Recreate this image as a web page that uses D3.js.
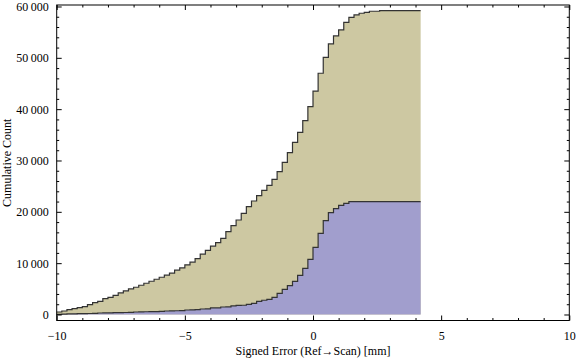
<!DOCTYPE html>
<html>
<head>
<meta charset="utf-8">
<script src="https://cdn.jsdelivr.net/npm/d3@7"></script>
<style>
  body { margin: 0; background: #fff; }
  text { font-family: "Liberation Serif", "Times New Roman", serif; fill: #000; }
</style>
</head>
<body>
<svg id="chart" width="576" height="361"></svg>
<script>
// histogram bins: 0.2 mm wide, starting at -10
const binStart = -10;
const binWidth = 0.2;

// cumulative counts per bin (all points)
const allCounts = [
  490, 680, 940, 1140, 1330, 1520, 1920, 2310, 2570, 3090,
  3350, 3740, 4200, 4590, 4980, 5310, 5700, 6090, 6480, 6870,
  7260, 7650, 8040, 8630, 9080, 9670, 10190, 10900, 11750, 12500,
  13300, 14000, 14840, 16130, 17300, 18410, 19710, 21010, 22110, 23150,
  24190, 25170, 26340, 27820, 29650, 31520, 33540, 35490, 37760, 40480,
  43520, 46990, 50100, 52700, 54260, 55430, 56920, 57890, 58350, 58680,
  58870, 59070, 59070, 59200, 59200, 59200, 59200, 59200, 59200, 59200,
  59200
];

// cumulative counts per bin (subset)
const subsetCounts = [
  40, 90, 110, 130, 150, 170, 190, 210, 290, 310,
  330, 350, 370, 390, 420, 490, 510, 530, 550, 570,
  600, 680, 700, 730, 760, 880, 900, 950, 1070, 1080,
  1270, 1280, 1460, 1480, 1660, 1790, 1800, 1990, 2180, 2570,
  2770, 2960, 3350, 4130, 4910, 5620, 6460, 7630, 9000, 10750,
  13090, 15820, 18280, 19840, 20620, 21270, 21660, 21980, 21980, 21980,
  21980, 21980, 21980, 21980, 21980, 21980, 21980, 21980, 21980, 21980,
  21980
];

const xMajor = [-10, -5, 0, 5, 10];
const xMinor = [-9, -8, -7, -6, -4, -3, -2, -1, 1, 2, 3, 4, 6, 7, 8, 9];
const yMajor = [0, 10000, 20000, 30000, 40000, 50000, 60000];
const yMinor = [2000, 4000, 6000, 8000, 12000, 14000, 16000, 18000, 22000, 24000, 26000, 28000,
  32000, 34000, 36000, 38000, 42000, 44000, 46000, 48000, 52000, 54000, 56000, 58000];

const xTitle = "Signed Error (Ref\u2192Scan) [mm]";
const yTitle = "Cumulative Count";

const svg = d3.select("#chart");
const frameL = 56.7, frameR = 569.3, frameT = 5, frameB = 320.5;

const x = d3.scaleLinear().domain([-10, 10]).range([frameL, frameR]);
const y = d3.scaleLinear().domain([-1170, 60290]).range([frameB, frameT]);

function toPoints(counts) {
  const pts = counts.map((v, i) => [binStart + i * binWidth, v]);
  pts.push([binStart + counts.length * binWidth, counts[counts.length - 1]]);
  return pts;
}

const area = d3.area()
  .curve(d3.curveStepAfter)
  .x(d => x(d[0]))
  .y0(y(0))
  .y1(d => y(d[1]));

const line = d3.line()
  .curve(d3.curveStepAfter)
  .x(d => x(d[0]))
  .y(d => y(d[1]));

const series = [
  { counts: allCounts, fill: "#cdc8a2" },
  { counts: subsetCounts, fill: "#a19ecd" }
];

series.forEach(s => {
  const pts = toPoints(s.counts);
  svg.append("path")
    .attr("d", area(pts))
    .attr("fill", s.fill);
  svg.append("path")
    .attr("d", line(pts))
    .attr("fill", "none")
    .attr("stroke", "#333")
    .attr("stroke-width", 1.2);
});

// frame ticks, pointing inward
const fmtX = d => d < 0 ? "\u2212" + Math.abs(d) : String(d);
const fmtY = d => d3.format(",")(d).replace(",", "\u2009");

function ticks(g) {
  g.select(".domain").remove();
  g.selectAll("line").attr("stroke", "#000");
  g.selectAll("text").attr("font-size", 12);
}

svg.append("g").attr("transform", `translate(0,${frameB})`)
  .call(d3.axisBottom(x).tickValues(xMajor).tickSize(-5).tickPadding(11).tickFormat(fmtX))
  .call(ticks);
svg.append("g").attr("transform", `translate(0,${frameB})`)
  .call(d3.axisBottom(x).tickValues(xMinor).tickSize(-2.5).tickFormat(""))
  .call(ticks);
svg.append("g").attr("transform", `translate(0,${frameT})`)
  .call(d3.axisTop(x).tickValues(xMajor).tickSize(-5).tickFormat(""))
  .call(ticks);
svg.append("g").attr("transform", `translate(0,${frameT})`)
  .call(d3.axisTop(x).tickValues(xMinor).tickSize(-2.5).tickFormat(""))
  .call(ticks);

svg.append("g").attr("transform", `translate(${frameL},0)`)
  .call(d3.axisLeft(y).tickValues(yMajor).tickSize(-5).tickPadding(8).tickFormat(fmtY))
  .call(ticks);
svg.append("g").attr("transform", `translate(${frameL},0)`)
  .call(d3.axisLeft(y).tickValues(yMinor).tickSize(-2.5).tickFormat(""))
  .call(ticks);
svg.append("g").attr("transform", `translate(${frameR},0)`)
  .call(d3.axisRight(y).tickValues(yMajor).tickSize(-5).tickFormat(""))
  .call(ticks);
svg.append("g").attr("transform", `translate(${frameR},0)`)
  .call(d3.axisRight(y).tickValues(yMinor).tickSize(-2.5).tickFormat(""))
  .call(ticks);

svg.append("rect")
  .attr("x", frameL).attr("y", frameT)
  .attr("width", frameR - frameL).attr("height", frameB - frameT)
  .attr("fill", "none")
  .attr("stroke", "#000")
  .attr("stroke-width", 1);

svg.append("text")
  .attr("x", (frameL + frameR) / 2)
  .attr("y", 355)
  .attr("text-anchor", "middle")
  .attr("font-size", 12)
  .text(xTitle);

svg.append("text")
  .attr("transform", `translate(11,${(frameT + frameB) / 2}) rotate(-90)`)
  .attr("text-anchor", "middle")
  .attr("font-size", 12)
  .text(yTitle);
</script>
</body>
</html>
